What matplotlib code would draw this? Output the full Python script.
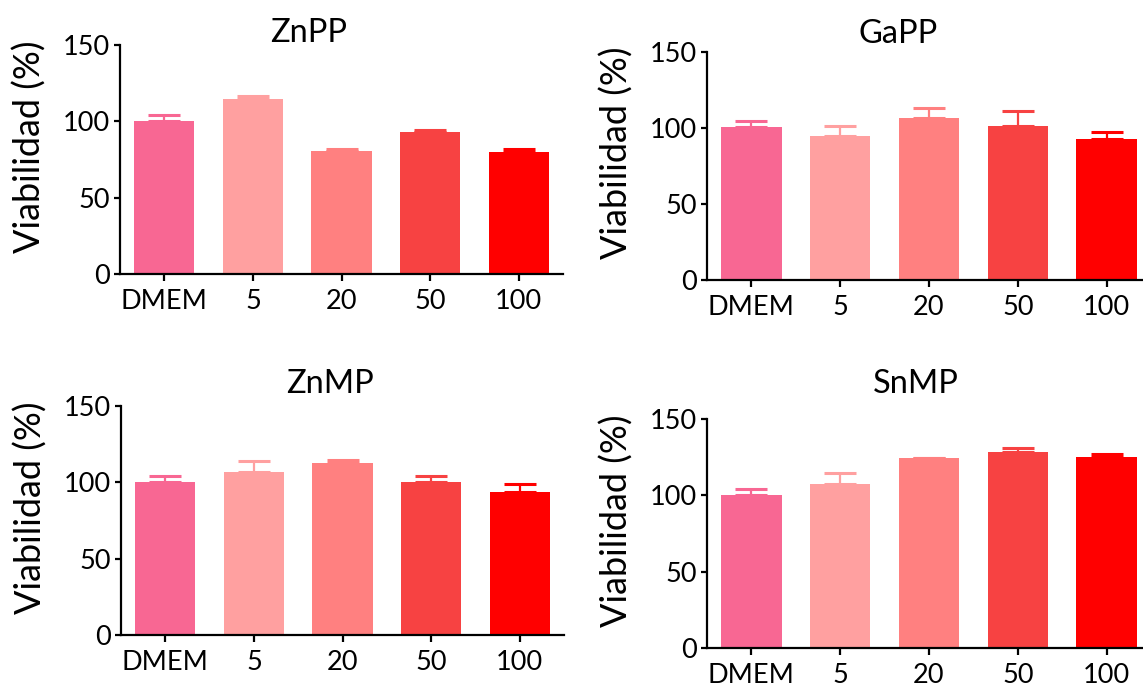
import numpy as np
import matplotlib
matplotlib.use("Agg")
import matplotlib.pyplot as plt

plt.rcParams['font.family'] = ['Lato', 'DejaVu Sans']

# data
categories = ['DMEM', '5', '20', '50', '100']
bar_colors = ['#F86793', '#FFA0A0', '#FF8080', '#F74242', '#FF0000']

titles = ['ZnPP', 'GaPP', 'ZnMP', 'SnMP']
znpp_mean = [100.4, 114.6, 80.8, 92.8, 79.7]
znpp_err = [3.7, 2.0, 0.9, 1.7, 2.2]
gapp_mean = [100.5, 94.8, 106.4, 101.6, 92.7]
gapp_err = [3.9, 6.6, 6.7, 9.4, 4.5]
znmp_mean = [100.3, 106.8, 112.5, 100.5, 93.5]
znmp_err = [3.9, 7.0, 2.4, 3.7, 5.5]
snmp_mean = [100.4, 107.4, 124.5, 128.4, 124.9]
snmp_err = [4.0, 7.2, 0.2, 2.4, 2.0]

ylabel = 'Viabilidad (%)'
yticks = [0, 50, 100, 150]

W, H = 1143, 685
fig = plt.figure(figsize=(W / 100, H / 100), dpi=100)

# axes boxes in pixels: left, top, right, bottom
boxes = [(120, 45, 563, 274),
         (707, 52, 1151, 280),
         (121, 406, 564, 635),
         (707, 419, 1151, 648)]
# title centre x (px), title centre y (px)
title_pos = [(309, 33), (898, 34), (330, 384), (916, 384)]

means = [znpp_mean, gapp_mean, znmp_mean, snmp_mean]
errs = [znpp_err, gapp_err, znmp_err, snmp_err]

for k in range(4):
    l, t, r, b = boxes[k]
    ax = fig.add_axes([l / W, 1 - b / H, (r - l) / W, (b - t) / H])
    x = np.arange(len(categories))
    ax.bar(x, means[k], width=0.68, color=bar_colors, zorder=2)
    for i in range(len(x)):
        ax.errorbar(x[i], means[k][i], yerr=[[0], [errs[k][i]]],
                    ecolor=bar_colors[i], elinewidth=1.6, capsize=11.5,
                    capthick=2.2, fmt='none', zorder=1, clip_on=False)
    ax.set_xlim(-0.5, 4.5)
    ax.set_ylim(0, 150)
    ax.set_yticks(yticks)
    ax.set_xticks(x)
    ax.set_xticklabels(categories)
    for s in ['top', 'right']:
        ax.spines[s].set_visible(False)
    for s in ['left', 'bottom']:
        ax.spines[s].set_linewidth(1.6)
    ax.tick_params(axis='both', labelsize=19.5, width=1.6, colors='black')
    ax.tick_params(axis='x', length=5, pad=6)
    ax.tick_params(axis='y', length=4.5, pad=3)

    # y label, sits a little above the axes middle
    ylab_x = l - 90
    ylab_y = (t + b) / 2 - 13
    fig.text(ylab_x / W, 1 - ylab_y / H, ylabel, rotation=90,
             ha='center', va='center', fontsize=26)
    tx, ty = title_pos[k]
    fig.text(tx / W, 1 - ty / H, titles[k], ha='center', va='center',
             fontsize=23.5)

fig.savefig('out.png', dpi=100)
